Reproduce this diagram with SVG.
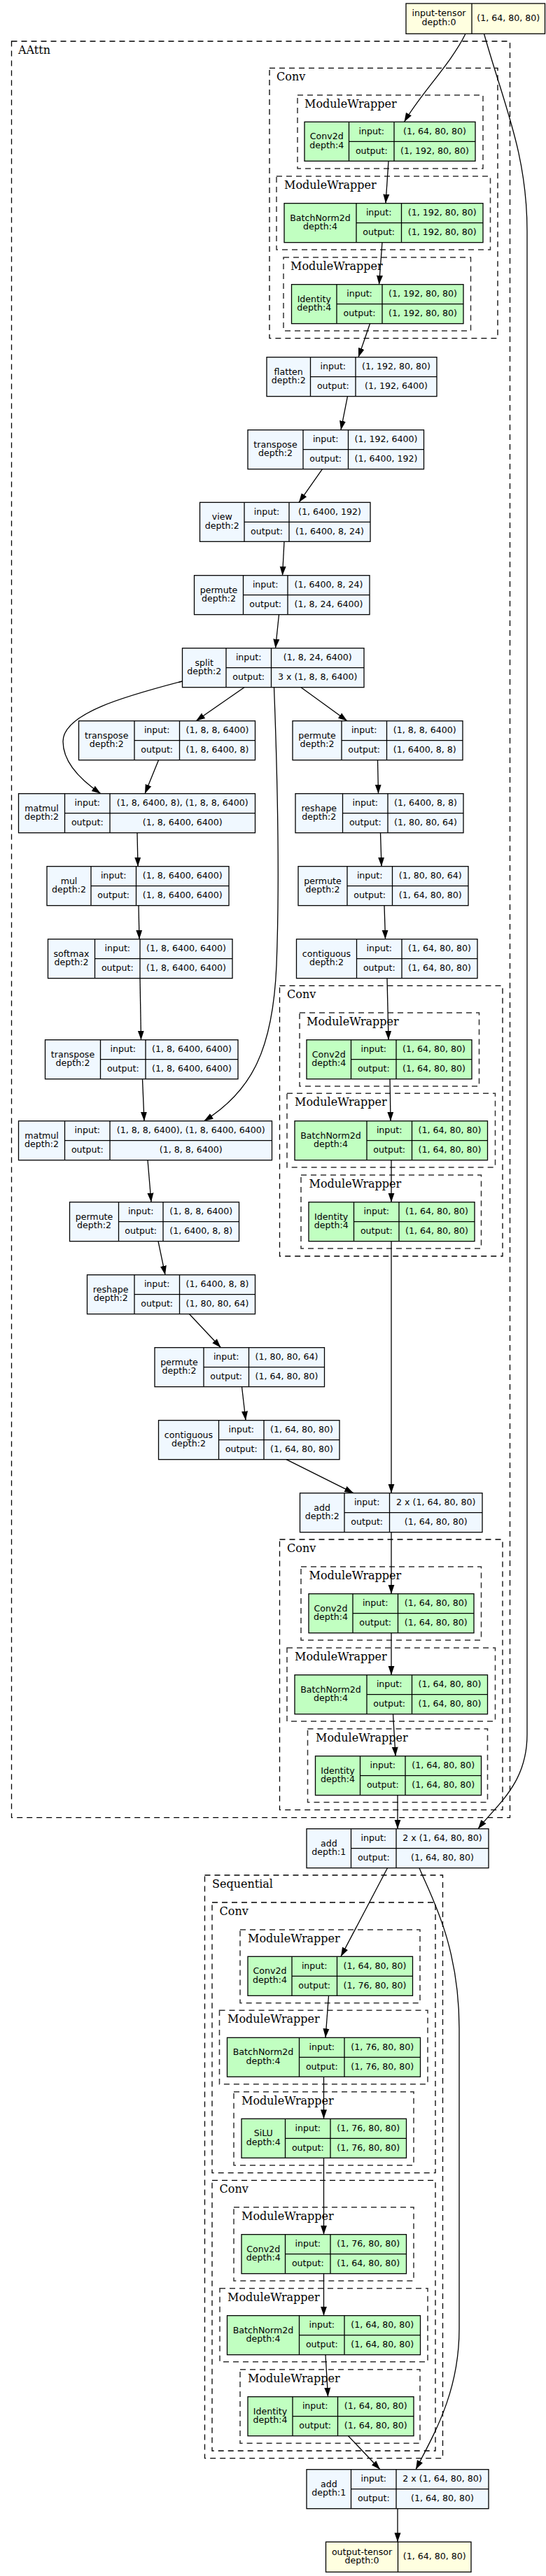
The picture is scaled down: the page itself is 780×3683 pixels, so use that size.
<svg xmlns="http://www.w3.org/2000/svg" width="780" height="3683" viewBox="0 0 780 3683">
<defs>
<style>
.b{fill:#f0f8ff;stroke:#000;stroke-width:1.3}
.g{fill:#c1ffc1;stroke:#000;stroke-width:1.3}
.y{fill:#ffffe0;stroke:#000;stroke-width:1.3}
.d{fill:none;stroke:#000;stroke-width:1.3}
text{font-family:"DejaVu Sans",sans-serif;font-size:12.6px;text-anchor:middle;fill:#000}
.cl{fill:none;stroke:#000;stroke-width:1.3;stroke-dasharray:8,6}
.mw{fill:none;stroke:#333;stroke-width:1.5;stroke-dasharray:8,6}
text.lb{font-family:"DejaVu Serif",serif;font-size:16px;text-anchor:start}
.e{fill:none;stroke:#000;stroke-width:1.3;marker-end:url(#ah)}
</style>
<marker id="ah" markerUnits="userSpaceOnUse" markerWidth="13" markerHeight="10" viewBox="0 0 13 10" refX="13" refY="5" orient="auto"><path d="M0,0.5 L13,5 L0,9.5 z" fill="#000"/></marker>
</defs>
<rect width="780" height="3683" fill="#fff"/>
<g id="clusters">
<g id="c_aattn"><rect class="cl" x="16.5" y="59" width="712" height="2539.7"/><text class="lb" x="26" y="77">AAttn</text></g>
<g id="c_conv1"><rect class="cl" x="385" y="97.3" width="326" height="386.4"/><text class="lb" x="395" y="115.3">Conv</text></g>
<g id="c_mw1"><rect class="mw" x="425" y="136" width="265" height="105"/><text class="lb" x="435" y="154">ModuleWrapper</text></g>
<g id="c_mw2"><rect class="mw" x="395" y="252" width="305.5" height="105"/><text class="lb" x="406" y="270">ModuleWrapper</text></g>
<g id="c_mw3"><rect class="mw" x="405" y="368" width="267.5" height="105"/><text class="lb" x="415" y="386">ModuleWrapper</text></g>
<g id="c_conv2"><rect class="cl" x="399.5" y="1409.3" width="318.5" height="386.7"/><text class="lb" x="410" y="1427.3">Conv</text></g>
<g id="c_mw4"><rect class="mw" x="428" y="1448" width="256.5" height="105"/><text class="lb" x="438" y="1466">ModuleWrapper</text></g>
<g id="c_mw5"><rect class="mw" x="410" y="1563.3" width="297.5" height="105.7"/><text class="lb" x="421" y="1581.3">ModuleWrapper</text></g>
<g id="c_mw6"><rect class="mw" x="430" y="1680" width="257.5" height="105"/><text class="lb" x="441.5" y="1698">ModuleWrapper</text></g>
<g id="c_conv3"><rect class="cl" x="399.5" y="2201" width="318.5" height="386.7"/><text class="lb" x="410" y="2219">Conv</text></g>
<g id="c_mw7"><rect class="mw" x="430" y="2240" width="257.5" height="105"/><text class="lb" x="441.5" y="2258">ModuleWrapper</text></g>
<g id="c_mw8"><rect class="mw" x="410" y="2356" width="297.5" height="105"/><text class="lb" x="421" y="2374">ModuleWrapper</text></g>
<g id="c_mw9"><rect class="mw" x="439.5" y="2471.7" width="257" height="105"/><text class="lb" x="451" y="2489.7">ModuleWrapper</text></g>
<g id="c_seq"><rect class="cl" x="292.5" y="2681" width="340" height="833.7"/><text class="lb" x="303" y="2699">Sequential</text></g>
<g id="c_conv4"><rect class="cl" x="303" y="2720" width="319" height="386.7"/><text class="lb" x="313.5" y="2738">Conv</text></g>
<g id="c_mw10"><rect class="mw" x="343" y="2759" width="257" height="104.7"/><text class="lb" x="354" y="2777">ModuleWrapper</text></g>
<g id="c_mw11"><rect class="mw" x="313.5" y="2874.3" width="297.5" height="105.4"/><text class="lb" x="325" y="2892.3">ModuleWrapper</text></g>
<g id="c_mw12"><rect class="mw" x="334" y="2990.7" width="257" height="105"/><text class="lb" x="345" y="3008.7">ModuleWrapper</text></g>
<g id="c_conv5"><rect class="cl" x="303" y="3117.3" width="319" height="386.7"/><text class="lb" x="313.5" y="3135.3">Conv</text></g>
<g id="c_mw13"><rect class="mw" x="334" y="3155.7" width="257" height="105.3"/><text class="lb" x="345" y="3173.7">ModuleWrapper</text></g>
<g id="c_mw14"><rect class="mw" x="314" y="3271.7" width="297" height="105"/><text class="lb" x="325" y="3289.7">ModuleWrapper</text></g>
<g id="c_mw15"><rect class="mw" x="343" y="3387.7" width="257" height="105.6"/><text class="lb" x="354" y="3405.7">ModuleWrapper</text></g>
</g>
<g id="connectors">
<path class="e" d="M665,48.3 C645,90 600,135 577.5,174.3"/>
<path class="e" d="M691.5,48.3 C720,150 753,220 753,330 L753,2480 C753,2550 710,2580 683,2614.7"/>
<path class="e" d="M555,230.3 L551,290.7"/>
<path class="e" d="M546,346.7 L541.5,406.7"/>
<path class="e" d="M528.5,462.7 L512,510.7"/>
<path class="e" d="M496.5,566.7 L487,614.7"/>
<path class="e" d="M460.5,670.7 L427,718.3"/>
<path class="e" d="M406,774.3 L403.5,822.7"/>
<path class="e" d="M398.5,878.7 L393.5,926.7"/>
<path class="e" d="M260.5,974 C180,995 90,1020 90,1060 C90,1090 115,1115 144,1134.7"/>
<path class="e" d="M349,982.7 L280,1030.7"/>
<path class="e" d="M391.5,982.7 C396,1100 400,1250 395,1380 C390,1500 360,1560 291.5,1602.7"/>
<path class="e" d="M430,982.7 L496,1030.7"/>
<path class="e" d="M226.5,1086.7 L207,1134.7"/>
<path class="e" d="M539.5,1086.7 L540.5,1134.7"/>
<path class="e" d="M196,1190.7 L197,1238.7"/>
<path class="e" d="M543.5,1190.7 L545,1238.7"/>
<path class="e" d="M198,1294.7 L199,1342.7"/>
<path class="e" d="M549,1294.7 L550.5,1342.7"/>
<path class="e" d="M200,1398.7 L201.5,1486.7"/>
<path class="e" d="M553,1398.7 L555,1486.7"/>
<path class="e" d="M203.5,1542.7 L206,1602.7"/>
<path class="e" d="M557,1542.7 L558,1602.7"/>
<path class="e" d="M559,1658.7 L559,1718.7"/>
<path class="e" d="M211,1658.7 L216,1718.7"/>
<path class="e" d="M559,1774.7 L559,2134.7"/>
<path class="e" d="M226,1774.7 L236,1822.7"/>
<path class="e" d="M270.5,1878.7 L315.5,1926.7"/>
<path class="e" d="M345.5,1982.7 L351,2030.7"/>
<path class="e" d="M409,2086.7 L505,2134.7"/>
<path class="e" d="M559,2190.7 L559,2278.7"/>
<path class="e" d="M559,2334.7 L559,2394.7"/>
<path class="e" d="M561.5,2450.7 L565,2510.7"/>
<path class="e" d="M568,2566.7 L568,2614.7"/>
<path class="e" d="M553.5,2670.7 L487,2797.3"/>
<path class="e" d="M599,2670.7 C615,2710 656,2780 656,2900 L656,3330 C656,3420 620,3480 594,3530.7"/>
<path class="e" d="M469.5,2853.3 L465,2913.3"/>
<path class="e" d="M462.5,2969.3 L462.5,3029.3"/>
<path class="e" d="M462.5,3085.3 L462.5,3194.7"/>
<path class="e" d="M462.5,3250.7 L462.5,3310.7"/>
<path class="e" d="M465,3366.7 L468.5,3426.7"/>
<path class="e" d="M497.5,3482.7 L543,3530.7"/>
<path class="e" d="M568,3586.7 L568,3634.3"/>
</g>
<g id="n_input"><rect class="y" x="580" y="5" width="198.5" height="43.3"/><path class="d" d="M674,5 V48.3"/><text x="627" y="23.2">input-tensor</text><text x="627" y="35.8">depth:0</text><text x="726.2" y="29.9">(1, 64, 80, 80)</text></g>
<g id="n_conv2d_1"><rect class="g" x="435" y="174.3" width="244" height="56"/><path class="d" d="M498.5,174.3 v56 M563,174.3 v56 M498.5,202.3 H679"/><text x="466.8" y="199.3">Conv2d</text><text x="466.8" y="211.9">depth:4</text><text x="530.8" y="191.7">input:</text><text x="530.8" y="219.7">output:</text><text x="621" y="191.7">(1, 64, 80, 80)</text><text x="621" y="219.7">(1, 192, 80, 80)</text></g>
<g id="n_bn_1"><rect class="g" x="406" y="290.7" width="284" height="56"/><path class="d" d="M509,290.7 v56 M573.5,290.7 v56 M509,318.7 H690"/><text x="457.5" y="315.7">BatchNorm2d</text><text x="457.5" y="328.3">depth:4</text><text x="541.2" y="308.1">input:</text><text x="541.2" y="336.1">output:</text><text x="631.8" y="308.1">(1, 192, 80, 80)</text><text x="631.8" y="336.1">(1, 192, 80, 80)</text></g>
<g id="n_identity_1"><rect class="g" x="416.5" y="406.7" width="245.5" height="56"/><path class="d" d="M481,406.7 v56 M546,406.7 v56 M481,434.7 H662"/><text x="448.8" y="431.7">Identity</text><text x="448.8" y="444.3">depth:4</text><text x="513.5" y="424.1">input:</text><text x="513.5" y="452.1">output:</text><text x="604" y="424.1">(1, 192, 80, 80)</text><text x="604" y="452.1">(1, 192, 80, 80)</text></g>
<g id="n_flatten"><rect class="b" x="381" y="510.7" width="243" height="56"/><path class="d" d="M443.5,510.7 v56 M508,510.7 v56 M443.5,538.7 H624"/><text x="412.2" y="535.7">flatten</text><text x="412.2" y="548.3">depth:2</text><text x="475.8" y="528.1">input:</text><text x="475.8" y="556.1">output:</text><text x="566" y="528.1">(1, 192, 80, 80)</text><text x="566" y="556.1">(1, 192, 6400)</text></g>
<g id="n_transpose_1"><rect class="b" x="354" y="614.7" width="251.5" height="56"/><path class="d" d="M433,614.7 v56 M497.5,614.7 v56 M433,642.7 H605.5"/><text x="393.5" y="639.7">transpose</text><text x="393.5" y="652.3">depth:2</text><text x="465.2" y="632.1">input:</text><text x="465.2" y="660.1">output:</text><text x="551.5" y="632.1">(1, 192, 6400)</text><text x="551.5" y="660.1">(1, 6400, 192)</text></g>
<g id="n_view"><rect class="b" x="285.5" y="718.3" width="243.5" height="56"/><path class="d" d="M349,718.3 v56 M413,718.3 v56 M349,746.3 H529"/><text x="317.2" y="743.3">view</text><text x="317.2" y="755.9">depth:2</text><text x="381" y="735.7">input:</text><text x="381" y="763.7">output:</text><text x="471" y="735.7">(1, 6400, 192)</text><text x="471" y="763.7">(1, 6400, 8, 24)</text></g>
<g id="n_permute_1"><rect class="b" x="277.5" y="822.7" width="250.5" height="56"/><path class="d" d="M347.5,822.7 v56 M411,822.7 v56 M347.5,850.7 H528"/><text x="312.5" y="847.7">permute</text><text x="312.5" y="860.3">depth:2</text><text x="379.2" y="840.1">input:</text><text x="379.2" y="868.1">output:</text><text x="469.5" y="840.1">(1, 6400, 8, 24)</text><text x="469.5" y="868.1">(1, 8, 24, 6400)</text></g>
<g id="n_split"><rect class="b" x="260.5" y="926.7" width="259.5" height="56"/><path class="d" d="M323,926.7 v56 M387.5,926.7 v56 M323,954.7 H520"/><text x="291.8" y="951.7">split</text><text x="291.8" y="964.3">depth:2</text><text x="355.2" y="944.1">input:</text><text x="355.2" y="972.1">output:</text><text x="453.8" y="944.1">(1, 8, 24, 6400)</text><text x="453.8" y="972.1">3 x (1, 8, 8, 6400)</text></g>
<g id="n_transpose_2"><rect class="b" x="112.5" y="1030.7" width="252" height="56"/><path class="d" d="M192,1030.7 v56 M256.5,1030.7 v56 M192,1058.7 H364.5"/><text x="152.2" y="1055.7">transpose</text><text x="152.2" y="1068.3">depth:2</text><text x="224.2" y="1048.1">input:</text><text x="224.2" y="1076.1">output:</text><text x="310.5" y="1048.1">(1, 8, 8, 6400)</text><text x="310.5" y="1076.1">(1, 8, 6400, 8)</text></g>
<g id="n_permute_2"><rect class="b" x="418" y="1030.7" width="243" height="56"/><path class="d" d="M488,1030.7 v56 M552.5,1030.7 v56 M488,1058.7 H661"/><text x="453" y="1055.7">permute</text><text x="453" y="1068.3">depth:2</text><text x="520.2" y="1048.1">input:</text><text x="520.2" y="1076.1">output:</text><text x="606.8" y="1048.1">(1, 8, 8, 6400)</text><text x="606.8" y="1076.1">(1, 6400, 8, 8)</text></g>
<g id="n_matmul_1"><rect class="b" x="26.5" y="1134.7" width="338" height="56"/><path class="d" d="M92.5,1134.7 v56 M157,1134.7 v56 M92.5,1162.7 H364.5"/><text x="59.5" y="1159.7">matmul</text><text x="59.5" y="1172.3">depth:2</text><text x="124.8" y="1152.1">input:</text><text x="124.8" y="1180.1">output:</text><text x="260.8" y="1152.1">(1, 8, 6400, 8), (1, 8, 8, 6400)</text><text x="260.8" y="1180.1">(1, 8, 6400, 6400)</text></g>
<g id="n_reshape_1"><rect class="b" x="422" y="1134.7" width="240" height="56"/><path class="d" d="M489.5,1134.7 v56 M554,1134.7 v56 M489.5,1162.7 H662"/><text x="455.8" y="1159.7">reshape</text><text x="455.8" y="1172.3">depth:2</text><text x="521.8" y="1152.1">input:</text><text x="521.8" y="1180.1">output:</text><text x="608" y="1152.1">(1, 6400, 8, 8)</text><text x="608" y="1180.1">(1, 80, 80, 64)</text></g>
<g id="n_mul"><rect class="b" x="67" y="1238.7" width="260" height="56"/><path class="d" d="M130,1238.7 v56 M194.5,1238.7 v56 M130,1266.7 H327"/><text x="98.5" y="1263.7">mul</text><text x="98.5" y="1276.3">depth:2</text><text x="162.2" y="1256.1">input:</text><text x="162.2" y="1284.1">output:</text><text x="260.8" y="1256.1">(1, 8, 6400, 6400)</text><text x="260.8" y="1284.1">(1, 8, 6400, 6400)</text></g>
<g id="n_permute_3"><rect class="b" x="426" y="1238.7" width="243" height="56"/><path class="d" d="M496,1238.7 v56 M560.5,1238.7 v56 M496,1266.7 H669"/><text x="461" y="1263.7">permute</text><text x="461" y="1276.3">depth:2</text><text x="528.2" y="1256.1">input:</text><text x="528.2" y="1284.1">output:</text><text x="614.8" y="1256.1">(1, 80, 80, 64)</text><text x="614.8" y="1284.1">(1, 64, 80, 80)</text></g>
<g id="n_softmax"><rect class="b" x="68.5" y="1342.7" width="263.5" height="56"/><path class="d" d="M135.5,1342.7 v56 M200,1342.7 v56 M135.5,1370.7 H332"/><text x="102" y="1367.7">softmax</text><text x="102" y="1380.3">depth:2</text><text x="167.8" y="1360.1">input:</text><text x="167.8" y="1388.1">output:</text><text x="266" y="1360.1">(1, 8, 6400, 6400)</text><text x="266" y="1388.1">(1, 8, 6400, 6400)</text></g>
<g id="n_contiguous_1"><rect class="b" x="423.5" y="1342.7" width="258.5" height="56"/><path class="d" d="M509.5,1342.7 v56 M574,1342.7 v56 M509.5,1370.7 H682"/><text x="466.5" y="1367.7">contiguous</text><text x="466.5" y="1380.3">depth:2</text><text x="541.8" y="1360.1">input:</text><text x="541.8" y="1388.1">output:</text><text x="628" y="1360.1">(1, 64, 80, 80)</text><text x="628" y="1388.1">(1, 64, 80, 80)</text></g>
<g id="n_transpose_3"><rect class="b" x="64.5" y="1486.7" width="275.5" height="56"/><path class="d" d="M143.5,1486.7 v56 M208,1486.7 v56 M143.5,1514.7 H340"/><text x="104" y="1511.7">transpose</text><text x="104" y="1524.3">depth:2</text><text x="175.8" y="1504.1">input:</text><text x="175.8" y="1532.1">output:</text><text x="274" y="1504.1">(1, 8, 6400, 6400)</text><text x="274" y="1532.1">(1, 8, 6400, 6400)</text></g>
<g id="n_conv2d_2"><rect class="g" x="438" y="1486.7" width="236" height="56"/><path class="d" d="M501.5,1486.7 v56 M566,1486.7 v56 M501.5,1514.7 H674"/><text x="469.8" y="1511.7">Conv2d</text><text x="469.8" y="1524.3">depth:4</text><text x="533.8" y="1504.1">input:</text><text x="533.8" y="1532.1">output:</text><text x="620" y="1504.1">(1, 64, 80, 80)</text><text x="620" y="1532.1">(1, 64, 80, 80)</text></g>
<g id="n_matmul_2"><rect class="b" x="26.5" y="1602.7" width="362" height="56"/><path class="d" d="M92.5,1602.7 v56 M157,1602.7 v56 M92.5,1630.7 H388.5"/><text x="59.5" y="1627.7">matmul</text><text x="59.5" y="1640.3">depth:2</text><text x="124.8" y="1620.1">input:</text><text x="124.8" y="1648.1">output:</text><text x="272.8" y="1620.1">(1, 8, 8, 6400), (1, 8, 6400, 6400)</text><text x="272.8" y="1648.1">(1, 8, 8, 6400)</text></g>
<g id="n_bn_2"><rect class="g" x="421" y="1602.7" width="275.5" height="56"/><path class="d" d="M524,1602.7 v56 M588.5,1602.7 v56 M524,1630.7 H696.5"/><text x="472.5" y="1627.7">BatchNorm2d</text><text x="472.5" y="1640.3">depth:4</text><text x="556.2" y="1620.1">input:</text><text x="556.2" y="1648.1">output:</text><text x="642.5" y="1620.1">(1, 64, 80, 80)</text><text x="642.5" y="1648.1">(1, 64, 80, 80)</text></g>
<g id="n_permute_4"><rect class="b" x="99.5" y="1718.7" width="242" height="56"/><path class="d" d="M169.5,1718.7 v56 M233,1718.7 v56 M169.5,1746.7 H341.5"/><text x="134.5" y="1743.7">permute</text><text x="134.5" y="1756.3">depth:2</text><text x="201.2" y="1736.1">input:</text><text x="201.2" y="1764.1">output:</text><text x="287.2" y="1736.1">(1, 8, 8, 6400)</text><text x="287.2" y="1764.1">(1, 6400, 8, 8)</text></g>
<g id="n_identity_2"><rect class="g" x="441" y="1718.7" width="237" height="56"/><path class="d" d="M505.5,1718.7 v56 M570,1718.7 v56 M505.5,1746.7 H678"/><text x="473.2" y="1743.7">Identity</text><text x="473.2" y="1756.3">depth:4</text><text x="537.8" y="1736.1">input:</text><text x="537.8" y="1764.1">output:</text><text x="624" y="1736.1">(1, 64, 80, 80)</text><text x="624" y="1764.1">(1, 64, 80, 80)</text></g>
<g id="n_reshape_2"><rect class="b" x="124.5" y="1822.7" width="240" height="56"/><path class="d" d="M192,1822.7 v56 M256.5,1822.7 v56 M192,1850.7 H364.5"/><text x="158.2" y="1847.7">reshape</text><text x="158.2" y="1860.3">depth:2</text><text x="224.2" y="1840.1">input:</text><text x="224.2" y="1868.1">output:</text><text x="310.5" y="1840.1">(1, 6400, 8, 8)</text><text x="310.5" y="1868.1">(1, 80, 80, 64)</text></g>
<g id="n_permute_5"><rect class="b" x="221" y="1926.7" width="242.5" height="56"/><path class="d" d="M291,1926.7 v56 M355.5,1926.7 v56 M291,1954.7 H463.5"/><text x="256" y="1951.7">permute</text><text x="256" y="1964.3">depth:2</text><text x="323.2" y="1944.1">input:</text><text x="323.2" y="1972.1">output:</text><text x="409.5" y="1944.1">(1, 80, 80, 64)</text><text x="409.5" y="1972.1">(1, 64, 80, 80)</text></g>
<g id="n_contiguous_2"><rect class="b" x="226.5" y="2030.7" width="258.5" height="56"/><path class="d" d="M312.5,2030.7 v56 M377,2030.7 v56 M312.5,2058.7 H485"/><text x="269.5" y="2055.7">contiguous</text><text x="269.5" y="2068.3">depth:2</text><text x="344.8" y="2048.1">input:</text><text x="344.8" y="2076.1">output:</text><text x="431" y="2048.1">(1, 64, 80, 80)</text><text x="431" y="2076.1">(1, 64, 80, 80)</text></g>
<g id="n_add_2"><rect class="b" x="428.5" y="2134.7" width="260.5" height="56"/><path class="d" d="M492,2134.7 v56 M556.5,2134.7 v56 M492,2162.7 H689"/><text x="460.2" y="2159.7">add</text><text x="460.2" y="2172.3">depth:2</text><text x="524.2" y="2152.1">input:</text><text x="524.2" y="2180.1">output:</text><text x="622.8" y="2152.1">2 x (1, 64, 80, 80)</text><text x="622.8" y="2180.1">(1, 64, 80, 80)</text></g>
<g id="n_conv2d_3"><rect class="g" x="441" y="2278.7" width="236" height="56"/><path class="d" d="M504,2278.7 v56 M568.5,2278.7 v56 M504,2306.7 H677"/><text x="472.5" y="2303.7">Conv2d</text><text x="472.5" y="2316.3">depth:4</text><text x="536.2" y="2296.1">input:</text><text x="536.2" y="2324.1">output:</text><text x="622.8" y="2296.1">(1, 64, 80, 80)</text><text x="622.8" y="2324.1">(1, 64, 80, 80)</text></g>
<g id="n_bn_3"><rect class="g" x="421" y="2394.7" width="275.5" height="56"/><path class="d" d="M524,2394.7 v56 M588.5,2394.7 v56 M524,2422.7 H696.5"/><text x="472.5" y="2419.7">BatchNorm2d</text><text x="472.5" y="2432.3">depth:4</text><text x="556.2" y="2412.1">input:</text><text x="556.2" y="2440.1">output:</text><text x="642.5" y="2412.1">(1, 64, 80, 80)</text><text x="642.5" y="2440.1">(1, 64, 80, 80)</text></g>
<g id="n_identity_3"><rect class="g" x="450.5" y="2510.7" width="237" height="56"/><path class="d" d="M514.5,2510.7 v56 M579,2510.7 v56 M514.5,2538.7 H687.5"/><text x="482.5" y="2535.7">Identity</text><text x="482.5" y="2548.3">depth:4</text><text x="546.8" y="2528.1">input:</text><text x="546.8" y="2556.1">output:</text><text x="633.2" y="2528.1">(1, 64, 80, 80)</text><text x="633.2" y="2556.1">(1, 64, 80, 80)</text></g>
<g id="n_add_1"><rect class="b" x="438" y="2614.7" width="260" height="56"/><path class="d" d="M501.5,2614.7 v56 M566,2614.7 v56 M501.5,2642.7 H698"/><text x="469.8" y="2639.7">add</text><text x="469.8" y="2652.3">depth:1</text><text x="533.8" y="2632.1">input:</text><text x="533.8" y="2660.1">output:</text><text x="632" y="2632.1">2 x (1, 64, 80, 80)</text><text x="632" y="2660.1">(1, 64, 80, 80)</text></g>
<g id="n_conv2d_4"><rect class="g" x="354" y="2797.3" width="235.5" height="56"/><path class="d" d="M417,2797.3 v56 M481.5,2797.3 v56 M417,2825.3 H589.5"/><text x="385.5" y="2822.3">Conv2d</text><text x="385.5" y="2834.9">depth:4</text><text x="449.2" y="2814.7">input:</text><text x="449.2" y="2842.7">output:</text><text x="535.5" y="2814.7">(1, 64, 80, 80)</text><text x="535.5" y="2842.7">(1, 76, 80, 80)</text></g>
<g id="n_bn_4"><rect class="g" x="324.5" y="2913.3" width="276" height="56"/><path class="d" d="M427.5,2913.3 v56 M492,2913.3 v56 M427.5,2941.3 H600.5"/><text x="376" y="2938.3">BatchNorm2d</text><text x="376" y="2950.9">depth:4</text><text x="459.8" y="2930.7">input:</text><text x="459.8" y="2958.7">output:</text><text x="546.2" y="2930.7">(1, 76, 80, 80)</text><text x="546.2" y="2958.7">(1, 76, 80, 80)</text></g>
<g id="n_silu"><rect class="g" x="345" y="3029.3" width="235.5" height="56"/><path class="d" d="M407.5,3029.3 v56 M472,3029.3 v56 M407.5,3057.3 H580.5"/><text x="376.2" y="3054.3">SiLU</text><text x="376.2" y="3066.9">depth:4</text><text x="439.8" y="3046.7">input:</text><text x="439.8" y="3074.7">output:</text><text x="526.2" y="3046.7">(1, 76, 80, 80)</text><text x="526.2" y="3074.7">(1, 76, 80, 80)</text></g>
<g id="n_conv2d_5"><rect class="g" x="345" y="3194.7" width="235.5" height="56"/><path class="d" d="M407.5,3194.7 v56 M472,3194.7 v56 M407.5,3222.7 H580.5"/><text x="376.2" y="3219.7">Conv2d</text><text x="376.2" y="3232.3">depth:4</text><text x="439.8" y="3212.1">input:</text><text x="439.8" y="3240.1">output:</text><text x="526.2" y="3212.1">(1, 76, 80, 80)</text><text x="526.2" y="3240.1">(1, 64, 80, 80)</text></g>
<g id="n_bn_5"><rect class="g" x="324.5" y="3310.7" width="276" height="56"/><path class="d" d="M427.5,3310.7 v56 M492,3310.7 v56 M427.5,3338.7 H600.5"/><text x="376" y="3335.7">BatchNorm2d</text><text x="376" y="3348.3">depth:4</text><text x="459.8" y="3328.1">input:</text><text x="459.8" y="3356.1">output:</text><text x="546.2" y="3328.1">(1, 64, 80, 80)</text><text x="546.2" y="3356.1">(1, 64, 80, 80)</text></g>
<g id="n_identity_5"><rect class="g" x="354" y="3426.7" width="237" height="56"/><path class="d" d="M418,3426.7 v56 M482.5,3426.7 v56 M418,3454.7 H591"/><text x="386" y="3451.7">Identity</text><text x="386" y="3464.3">depth:4</text><text x="450.2" y="3444.1">input:</text><text x="450.2" y="3472.1">output:</text><text x="536.8" y="3444.1">(1, 64, 80, 80)</text><text x="536.8" y="3472.1">(1, 64, 80, 80)</text></g>
<g id="n_add_1b"><rect class="b" x="438" y="3530.7" width="260" height="56"/><path class="d" d="M501.5,3530.7 v56 M566,3530.7 v56 M501.5,3558.7 H698"/><text x="469.8" y="3555.7">add</text><text x="469.8" y="3568.3">depth:1</text><text x="533.8" y="3548.1">input:</text><text x="533.8" y="3576.1">output:</text><text x="632" y="3548.1">2 x (1, 64, 80, 80)</text><text x="632" y="3576.1">(1, 64, 80, 80)</text></g>
<g id="n_output"><rect class="y" x="465.5" y="3634.3" width="207.5" height="43"/><path class="d" d="M568.5,3634.3 V3677.3"/><text x="517" y="3652.5">output-tensor</text><text x="517" y="3665.1">depth:0</text><text x="620.8" y="3659.2">(1, 64, 80, 80)</text></g>
</svg>
